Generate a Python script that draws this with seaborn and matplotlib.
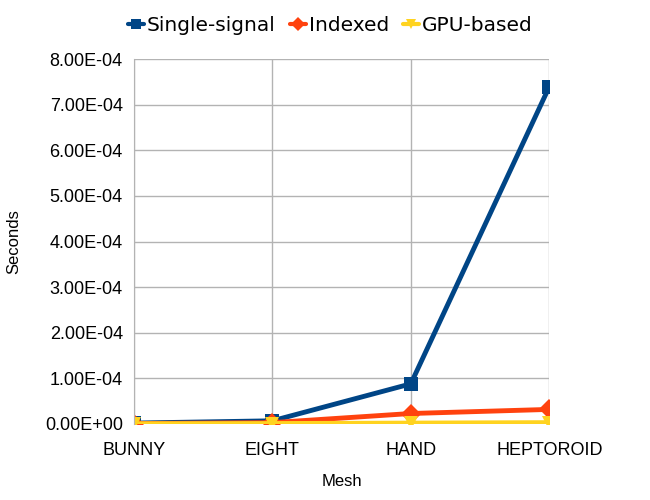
import matplotlib
matplotlib.use("Agg")
import matplotlib.pyplot as plt
import seaborn as sns
import pandas as pd
from matplotlib.lines import Line2D

meshes = ["BUNNY", "EIGHT", "HAND", "HEPTOROID"]
single_signal = [2.0e-6, 7.0e-6, 8.8e-5, 7.39e-4]
indexed = [1.0e-6, 3.0e-6, 2.3e-5, 3.2e-5]
gpu_based = [0.5e-6, 1.0e-6, 2.0e-6, 3.0e-6]
series_names = ["Single-signal", "Indexed", "GPU-based"]
y_ticks = [i * 1e-4 for i in range(9)]

rows = []
for name, vals in zip(series_names, [single_signal, indexed, gpu_based]):
    for m, v in zip(meshes, vals):
        rows.append({"Mesh": m, "Seconds": v, "Series": name})
df = pd.DataFrame(rows)

sns.set_style("white")
plt.rcParams['font.family'] = ['Liberation Sans', 'DejaVu Sans']
plt.rcParams['text.color'] = 'black'
plt.rcParams['axes.labelcolor'] = 'black'
plt.rcParams['xtick.color'] = 'black'
plt.rcParams['ytick.color'] = 'black'

fig = plt.figure(figsize=(6.5, 5), dpi=100)
ax = fig.add_axes([0.206, 0.152, 0.639, 0.730])

palette = {"Single-signal": "#004586", "Indexed": "#ff420e", "GPU-based": "#ffd320"}
markers = {"Single-signal": "s", "Indexed": "D", "GPU-based": "v"}

sns.lineplot(data=df, x="Mesh", y="Seconds", hue="Series", style="Series",
             palette=palette, markers=markers, dashes=False, sort=False,
             linewidth=3.5, markersize=10, markeredgewidth=0, ax=ax, legend=False)

ax.set_xlim(0, 3)
ax.set_ylim(0, 8e-4)
ax.set_yticks(y_ticks)
ax.set_yticklabels(["%.2E" % v for v in y_ticks], fontsize=13)
ax.set_xticks(range(len(meshes)))
ax.set_xticklabels(meshes, fontsize=13)
ax.grid(True, color="#b3b3b3", linewidth=1)
ax.set_axisbelow(True)
for s in ["top", "right", "bottom"]:
    ax.spines[s].set_visible(False)
ax.spines["left"].set_color("#b3b3b3")
ax.tick_params(axis="y", length=5, color="#b3b3b3", pad=3, labelcolor="black")
ax.tick_params(axis="x", length=0, pad=13, labelcolor="black")
ax.set_xlabel("Mesh", fontsize=12, labelpad=11)
ax.set_ylabel("Seconds", fontsize=12, labelpad=17)

handles = [Line2D([0], [0], color=palette[n], marker=markers[n], linewidth=3,
                  markersize=7, markeredgewidth=0) for n in series_names]
fig.legend(handles, series_names, loc="upper center", bbox_to_anchor=(0.508, 1.005),
           ncol=3, frameon=False, prop={"family": "DejaVu Sans", "size": 14.5},
           handlelength=0.8, handletextpad=0.15, columnspacing=0.7)

fig.savefig("out.png", dpi=100)
